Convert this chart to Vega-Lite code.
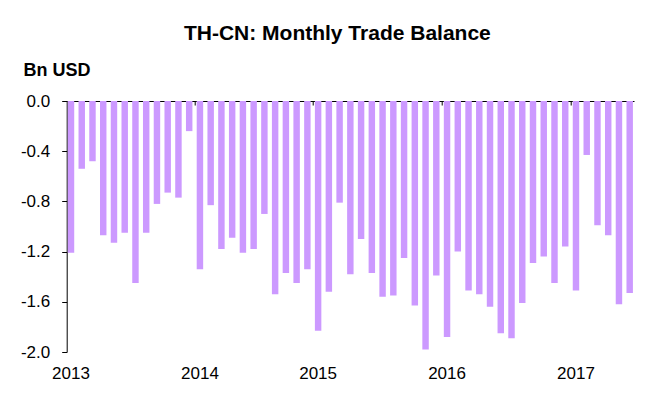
{
  "$schema": "https://vega.github.io/schema/vega-lite/v6.json",
  "width": 567.3,
  "height": 251,
  "autosize": "none",
  "padding": {"left": 66.7, "top": 101, "right": 35, "bottom": 51},
  "background": "white",
  "title": {
    "text": "TH-CN: Monthly Trade Balance",
    "font": "Liberation Sans",
    "fontSize": 21,
    "fontWeight": "bold",
    "color": "black",
    "anchor": "middle",
    "baseline": "alphabetic",
    "offset": 1,
    "dx": -13
  },
  "config": {
    "view": {"stroke": null},
    "font": "Liberation Sans",
    "axis": {"labelFont": "Liberation Sans", "titleFont": "Liberation Sans", "labelColor": "black", "titleColor": "black", "domainColor": "black", "tickColor": "black", "grid": false}
  },
  "data": {
    "values": [
      {"month": "2013-01", "balance": -1.21},
      {"month": "2013-02", "balance": -0.54},
      {"month": "2013-03", "balance": -0.48},
      {"month": "2013-04", "balance": -1.07},
      {"month": "2013-05", "balance": -1.13},
      {"month": "2013-06", "balance": -1.05},
      {"month": "2013-07", "balance": -1.45},
      {"month": "2013-08", "balance": -1.05},
      {"month": "2013-09", "balance": -0.82},
      {"month": "2013-10", "balance": -0.73},
      {"month": "2013-11", "balance": -0.77},
      {"month": "2013-12", "balance": -0.24},
      {"month": "2014-01", "balance": -1.34},
      {"month": "2014-02", "balance": null},
      {"month": "2014-03", "balance": -0.83},
      {"month": "2014-04", "balance": -1.18},
      {"month": "2014-05", "balance": -1.09},
      {"month": "2014-06", "balance": -1.21},
      {"month": "2014-07", "balance": -1.18},
      {"month": "2014-08", "balance": -0.90},
      {"month": "2014-09", "balance": -1.54},
      {"month": "2014-10", "balance": -1.37},
      {"month": "2014-11", "balance": -1.45},
      {"month": "2014-12", "balance": -1.34},
      {"month": "2015-01", "balance": -1.83},
      {"month": "2015-02", "balance": -1.52},
      {"month": "2015-03", "balance": -0.81},
      {"month": "2015-04", "balance": -1.38},
      {"month": "2015-05", "balance": -1.10},
      {"month": "2015-06", "balance": -1.37},
      {"month": "2015-07", "balance": -1.56},
      {"month": "2015-08", "balance": -1.55},
      {"month": "2015-09", "balance": -1.25},
      {"month": "2015-10", "balance": -1.63},
      {"month": "2015-11", "balance": -1.98},
      {"month": "2015-12", "balance": -1.39},
      {"month": "2016-01", "balance": -1.88},
      {"month": "2016-02", "balance": -1.20},
      {"month": "2016-03", "balance": -1.51},
      {"month": "2016-04", "balance": -1.54},
      {"month": "2016-05", "balance": -1.64},
      {"month": "2016-06", "balance": -1.85},
      {"month": "2016-07", "balance": -1.89},
      {"month": "2016-08", "balance": -1.61},
      {"month": "2016-09", "balance": -1.29},
      {"month": "2016-10", "balance": -1.24},
      {"month": "2016-11", "balance": -1.45},
      {"month": "2016-12", "balance": -1.16},
      {"month": "2017-01", "balance": -1.51},
      {"month": "2017-02", "balance": -0.43},
      {"month": "2017-03", "balance": -0.99},
      {"month": "2017-04", "balance": -1.07},
      {"month": "2017-05", "balance": -1.62},
      {"month": "2017-06", "balance": -1.53}
    ]
  },
  "resolve": {"axis": {"x": "independent"}},
  "layer": [
    {
      "mark": {"type": "bar", "color": "#CC99FF", "invalid": "break-paths-show-domains"},
      "encoding": {
        "x": {
          "field": "month",
          "type": "ordinal",
          "scale": {"paddingInner": 0.4, "paddingOuter": 0.1},
          "axis": {
            "orient": "bottom",
            "title": null,
            "domain": false,
            "ticks": false,
            "labelAngle": 0,
            "labelFontSize": 17,
            "labelPadding": 13,
            "values": ["2013-01", "2014-01", "2015-01", "2016-01", "2017-01"],
            "labelExpr": "substring(datum.value, 0, 4)"
          }
        },
        "y": {
          "field": "balance",
          "type": "quantitative",
          "scale": {"domain": [-2, 0], "nice": false, "zero": false},
          "axis": {
            "values": [-2, -1.6, -1.2, -0.8, -0.4, 0],
            "labelExpr": "(datum.value < 0 ? '-' : '') + format(abs(datum.value), '.1f')",
            "labelFontSize": 17,
            "tickSize": 5,
            "labelPadding": 12,
            "domainWidth": 1,
            "title": "Bn USD",
            "titleAngle": 0,
            "titleFontSize": 18,
            "titleFontWeight": "bold",
            "titleAlign": "left",
            "titleBaseline": "alphabetic",
            "titleX": -43.7,
            "titleY": -25.3
          }
        }
      }
    },
    {
      "mark": {"type": "bar", "opacity": 0, "invalid": "break-paths-show-domains"},
      "encoding": {
        "x": {
          "field": "month",
          "type": "ordinal",
          "axis": {
            "orient": "top",
            "title": null,
            "labels": false,
            "domain": true,
            "ticks": true,
            "tickSize": -4,
            "bandPosition": 0,
            "tickOffset": -2,
            "values": ["2014-01", "2015-01", "2016-01", "2017-01"]
          }
        },
        "y": {"field": "balance", "type": "quantitative"}
      }
    }
  ]
}
